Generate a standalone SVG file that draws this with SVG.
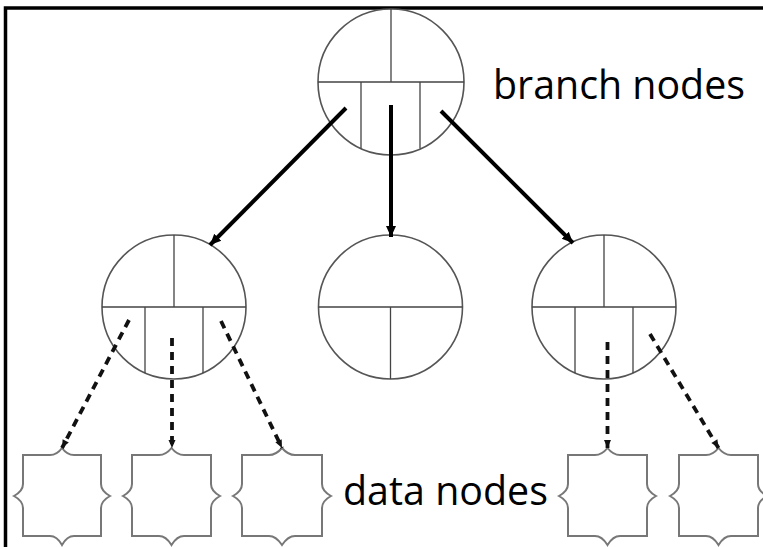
<svg xmlns="http://www.w3.org/2000/svg" width="763" height="547" viewBox="0 0 763 547">
<defs>
<style>
.circ{fill:#fff;stroke:#555;stroke-width:1.6}
.div{stroke:#444;stroke-width:1.3;fill:none}
.box{fill:#fff;stroke:#777;stroke-width:2}
.solid{stroke:#000;stroke-width:4;fill:none}
.dash{stroke:#111;stroke-width:3.8;fill:none;stroke-dasharray:8 6}
.lbl{font-family:"Open Sans","Noto Sans","Liberation Sans",sans-serif;font-size:40px;fill:#000}
</style>
<marker id="ah" markerUnits="userSpaceOnUse" markerWidth="12" markerHeight="12" viewBox="0 0 12 12" refX="11" refY="6" orient="auto">
<path d="M0,1 L11,6 L0,11 Z" fill="#000"/>
</marker>
<marker id="ahs" markerUnits="userSpaceOnUse" markerWidth="10" markerHeight="10" viewBox="0 0 10 10" refX="9" refY="5" orient="auto">
<path d="M1,1.5 L9,5 L1,8.5 Z" fill="#111"/>
</marker>
</defs>
<rect width="763" height="547" fill="#fff"/>
<path d="M5.5,547 V8 H763" fill="none" stroke="#000" stroke-width="3.5"/>

<g id="root">
<circle class="circ" cx="391" cy="82" r="73"/>
<path class="div" d="M318,82 H464 M391,82 V9 M361,82 V148.5 M420,82 V148.5"/>
</g>
<g id="branch-left">
<circle class="circ" cx="174" cy="307" r="72"/>
<path class="div" d="M102,307 H246 M174,307 V235 M145,307 V373 M203,307 V373"/>
</g>
<g id="branch-middle">
<circle class="circ" cx="390.5" cy="307" r="72"/>
<path class="div" d="M318.5,307 H462.5 M390.5,307 V379"/>
</g>
<g id="branch-right">
<circle class="circ" cx="604" cy="307" r="72"/>
<path class="div" d="M532,307 H676 M604,307 V235 M575,307 V373 M633,307 V373"/>
</g>

<g id="data1"><path class="box" d="M23,455 H50 Q57,455 62,448 Q67,455 74,455 H101 V484 Q101,491 110,496 Q101,501 101,508 V536 H74 Q67,536 62,545 Q57,536 50,536 H23 V508 Q23,501 14,496 Q23,491 23,484 Z"/></g>
<g id="data2"><path class="box" d="M132,455 H159 Q166,455 171.5,448 Q177,455 184,455 H211 V484 Q211,491 220,496 Q211,501 211,508 V536 H184 Q177,536 171.5,545 Q166,536 159,536 H132 V508 Q132,501 123,496 Q132,491 132,484 Z"/></g>
<g id="data3"><path class="box" d="M242,455 H269 Q276,455 282,448 Q288,455 295,455 H322 V484 Q322,491 331,496 Q322,501 322,508 V536 H295 Q288,536 282,545 Q276,536 269,536 H242 V508 Q242,501 233,496 Q242,491 242,484 Z"/></g>
<g id="data4"><path class="box" d="M568,455 H595 Q602,455 607.5,448 Q613,455 620,455 H647 V484 Q647,491 656,496 Q647,501 647,508 V536 H620 Q613,536 607.5,545 Q602,536 595,536 H568 V508 Q568,501 559,496 Q568,491 568,484 Z"/></g>
<g id="data5"><path class="box" d="M679,455 H706 Q713,455 718.5,448 Q724,455 731,455 H758 V484 Q758,491 767,496 Q758,501 758,508 V536 H731 Q724,536 718.5,545 Q713,536 706,536 H679 V508 Q679,501 670,496 Q679,491 679,484 Z"/></g>

<g id="connectors">
<line class="solid" x1="346" y1="108" x2="210" y2="245" marker-end="url(#ah)"/>
<line class="solid" x1="391" y1="105" x2="391" y2="237" marker-end="url(#ah)"/>
<line class="solid" x1="441" y1="111" x2="573" y2="243" marker-end="url(#ah)"/>
<line class="dash" x1="129" y1="320" x2="62" y2="448" marker-end="url(#ahs)"/>
<line class="dash" x1="172" y1="338" x2="172" y2="448" marker-end="url(#ahs)"/>
<line class="dash" x1="221" y1="321" x2="282" y2="448" marker-end="url(#ahs)"/>
<line class="dash" x1="607.5" y1="342" x2="607.5" y2="448" marker-end="url(#ahs)"/>
<line class="dash" x1="650" y1="334" x2="718.5" y2="448" marker-end="url(#ahs)"/>
</g>

<text class="lbl" x="493" y="99" textLength="252" lengthAdjust="spacingAndGlyphs">branch nodes</text>
<text class="lbl" x="343" y="505" textLength="205" lengthAdjust="spacingAndGlyphs">data nodes</text>
</svg>
